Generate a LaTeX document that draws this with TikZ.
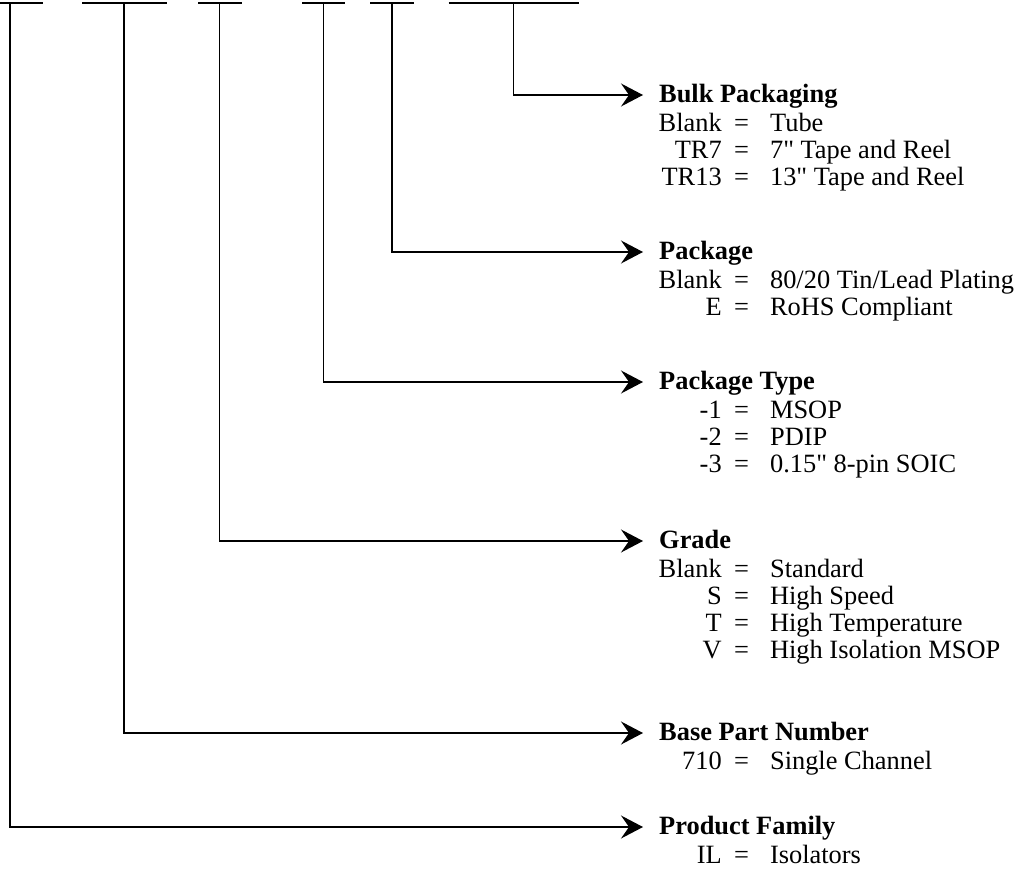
\documentclass[tikz,border=0pt]{standalone}
\usepackage{fontspec}
\setmainfont{Liberation Serif}
\usetikzlibrary{arrows.meta}

\newcommand{\opt}[2]{\makebox[62pt][r]{#1}\hspace{12.5pt}=\hspace{21pt}#2}
\newcommand{\inch}{\textquotedbl}

\begin{document}
\begin{tikzpicture}[x=1pt,y=1pt,yscale=-1,
  bar/.style={line width=1.3pt},
  conn/.style={line width=1.3pt,-{Stealth[length=22pt,width=23pt,inset=8pt]}},
  hdr/.style={anchor=west,inner xsep=16pt,inner ysep=0pt,text height=19pt,text depth=5pt,font=\fontsize{26.4pt}{27pt}\selectfont\bfseries},
  optline/.style={anchor=base west,inner sep=0pt,font=\fontsize{26.4pt}{27pt}\selectfont}]
\useasboundingbox (0,0) rectangle (1016,875);

%Straight Lines: the blanks of the part number
\draw[bar] (-22.5,3) -- (42.5,3) ;
\draw[bar] (82,3) -- (167,3) ;
\draw[bar] (198,3) -- (241.5,3) ;
\draw[bar] (302,3) -- (345,3) ;
\draw[bar] (370,3) -- (414,3) ;
\draw[bar] (448.5,3) -- (579,3) ;

\coordinate (fam) at (10,3) ;
\coordinate (num) at (124,3) ;
\coordinate (grd) at (219.5,3) ;
\coordinate (typ) at (323.5,3) ;
\coordinate (pkg) at (392,3) ;
\coordinate (blk) at (513.5,3) ;

% Text Node
\node[hdr] (bulk) at (643,95) {Bulk Packaging};
\node[optline] (bulk1) at (659.5,131.5) {\opt{Blank}{Tube}};
\node[optline] (bulk2) at (659.5,158.5) {\opt{TR7}{7\inch{} Tape and Reel}};
\node[optline] (bulk3) at (659.5,185.5) {\opt{TR13}{13\inch{} Tape and Reel}};
% Text Node
\node[hdr] (pack) at (643,252) {Package};
\node[optline] (pack1) at (659.5,288.5) {\opt{Blank}{80/20 Tin/Lead Plating}};
\node[optline] (pack2) at (659.5,315.5) {\opt{E}{RoHS Compliant}};
% Text Node
\node[hdr] (ptype) at (643,382) {Package Type};
\node[optline] (ptype1) at (659.5,418.5) {\opt{-1}{MSOP}};
\node[optline] (ptype2) at (659.5,445.5) {\opt{-2}{PDIP}};
\node[optline] (ptype3) at (659.5,472.5) {\opt{-3}{0.15\inch{} 8-pin SOIC}};
% Text Node
\node[hdr] (grade) at (643,541) {Grade};
\node[optline] (grade1) at (659.5,577.5) {\opt{Blank}{Standard}};
\node[optline] (grade2) at (659.5,604.5) {\opt{S}{High Speed}};
\node[optline] (grade3) at (659.5,631.5) {\opt{T}{High Temperature}};
\node[optline] (grade4) at (659.5,658.5) {\opt{V}{High Isolation MSOP}};
% Text Node
\node[hdr] (base) at (643,733) {Base Part Number};
\node[optline] (base1) at (659.5,769.5) {\opt{710}{Single Channel}};
% Text Node
\node[hdr] (prod) at (643,827) {Product Family};
\node[optline] (prod1) at (659.5,863.5) {\opt{IL}{Isolators}};

%Connectors
\draw[conn] (blk) |- (bulk.west) ;
\draw[conn] (pkg) |- (pack.west) ;
\draw[conn] (typ) |- (ptype.west) ;
\draw[conn] (grd) |- (grade.west) ;
\draw[conn] (num) |- (base.west) ;
\draw[conn] (fam) |- (prod.west) ;

\end{tikzpicture}
\end{document}
